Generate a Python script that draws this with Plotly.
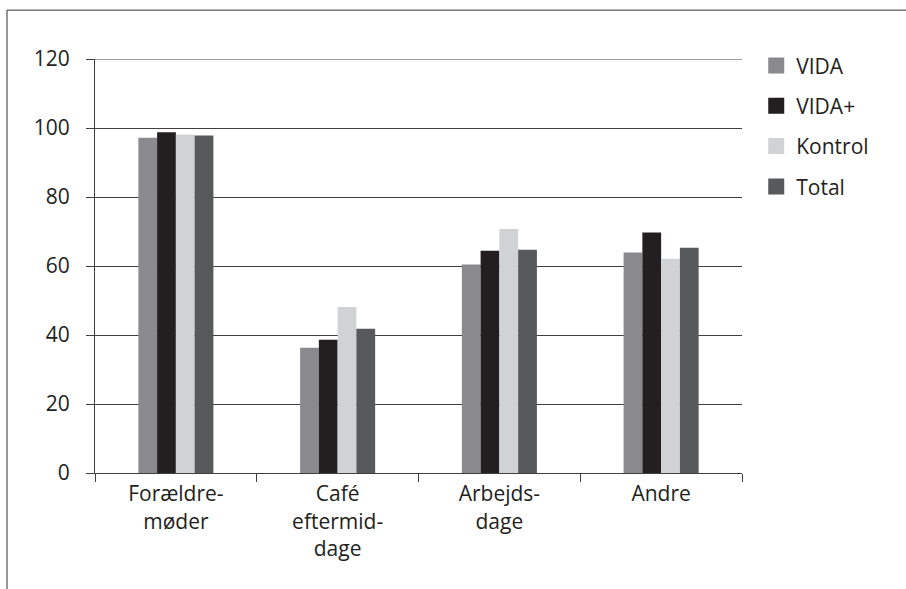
import plotly.graph_objects as go

categories = ["Forældre-<br>møder", "Café<br>eftermid-<br>dage", "Arbejds-<br>dage", "Andre"]
series_names = ["VIDA", "VIDA+", "Kontrol", "Total"]
vida = [97.2, 36.3, 60.4, 63.9]
vida_plus = [98.8, 38.6, 64.4, 69.7]
kontrol = [98.1, 48.1, 70.7, 62.1]
total = [97.8, 41.8, 64.7, 65.3]
y_ticks = [0, 20, 40, 60, 80, 100, 120]

colors = ["#8a8a8e", "#231f20", "#d1d2d4", "#58595b"]
values = [vida, vida_plus, kontrol, total]

FONT = "Open Sans, Noto Sans, sans-serif"
TXT = "#231f20"
GRID = "#404040"

fig = go.Figure()
for name, vals, col in zip(series_names, values, colors):
    fig.add_trace(go.Bar(x=categories, y=vals, name=name, marker=dict(color=col, line=dict(width=0)),
                         showlegend=False))
for i, (name, col) in enumerate(zip(series_names, colors)):
    fig.add_trace(go.Scatter(x=[None], y=[None], mode="markers", name=name,
                             marker=dict(symbol="square", size=17, color=col),
                             legendgroup="g%d" % i, showlegend=True))

fig.update_layout(
    width=906, height=589,
    margin=dict(l=95, r=164, t=59, b=116, autoexpand=False),
    paper_bgcolor="white", plot_bgcolor="white",
    barmode="group", bargap=0.536, bargroupgap=0,
    font=dict(family=FONT, size=21, color=TXT),
    legend=dict(x=1.022, y=1.033, xanchor="left", yanchor="top",
                font=dict(family=FONT, size=21, color=TXT),
                tracegroupgap=10, itemclick=False),
    xaxis=dict(showgrid=False, showline=True, linecolor=GRID, linewidth=1,
               ticks="outside", tickson="boundaries", ticklen=8, tickcolor=GRID,
               ticklabelstandoff=2,
               tickfont=dict(size=21, color=TXT), fixedrange=True),
    yaxis=dict(range=[0, max(y_ticks)], tickvals=y_ticks, showgrid=True, gridcolor=GRID, gridwidth=1,
               showline=True, linecolor=GRID, linewidth=1, zeroline=False,
               ticks="outside", ticklen=8, tickcolor=GRID,
               ticklabelstandoff=12,
               tickfont=dict(size=21, color=TXT), fixedrange=True),
    shapes=[
        dict(type="line", xref="paper", yref="y", x0=0, x1=1, y0=max(y_ticks), y1=max(y_ticks),
             line=dict(color=GRID, width=1), layer="below"),
        dict(type="line", xref="paper", yref="paper", x0=-0.136, x1=-0.136, y0=1.118, y1=-1,
             line=dict(color="#333333", width=1)),
        dict(type="line", xref="paper", yref="paper", x0=-0.136, x1=2, y0=1.118, y1=1.118,
             line=dict(color="#333333", width=1)),
    ],
)

fig.write_html("out.html", config={"displayModeBar": False},
               post_script="document.body.style.margin='0';document.body.style.overflow='hidden';")
